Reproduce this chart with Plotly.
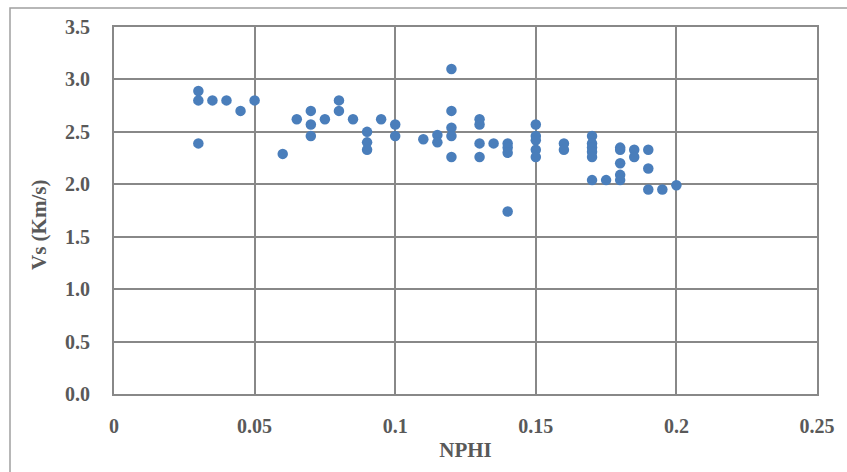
import plotly.graph_objects as go

# NPHI (x) and Vs (y) values
nphi = [0.03, 0.03, 0.03, 0.035, 0.04, 0.045, 0.05, 0.06, 0.065,
        0.07, 0.07, 0.07, 0.075, 0.08, 0.08, 0.085,
        0.09, 0.09, 0.09, 0.095, 0.10, 0.10, 0.11, 0.115, 0.115,
        0.12, 0.12, 0.12, 0.12, 0.12,
        0.13, 0.13, 0.13, 0.13, 0.135,
        0.14, 0.14, 0.14, 0.14,
        0.15, 0.15, 0.15, 0.15, 0.15,
        0.16, 0.16,
        0.17, 0.17, 0.17, 0.17, 0.17, 0.17, 0.175,
        0.18, 0.18, 0.18, 0.18, 0.18,
        0.185, 0.185, 0.19, 0.19, 0.19, 0.195, 0.20]
vs = [2.89, 2.80, 2.39, 2.80, 2.80, 2.70, 2.80, 2.29, 2.62,
      2.70, 2.57, 2.46, 2.62, 2.80, 2.70, 2.62,
      2.50, 2.40, 2.33, 2.62, 2.57, 2.46, 2.43, 2.47, 2.40,
      3.10, 2.70, 2.54, 2.46, 2.26,
      2.62, 2.57, 2.39, 2.26, 2.39,
      2.39, 2.35, 2.30, 1.74,
      2.57, 2.46, 2.42, 2.33, 2.26,
      2.39, 2.33,
      2.46, 2.39, 2.35, 2.31, 2.26, 2.04, 2.04,
      2.35, 2.33, 2.20, 2.09, 2.04,
      2.33, 2.26, 2.33, 2.15, 1.95, 1.95, 1.99]

x_ticks = [0, 0.05, 0.1, 0.15, 0.2, 0.25]
x_tick_labels = ["0", "0.05", "0.1", "0.15", "0.2", "0.25"]
y_ticks = [0.0, 0.5, 1.0, 1.5, 2.0, 2.5, 3.0, 3.5]
y_tick_labels = ["0.0", "0.5", "1.0", "1.5", "2.0", "2.5", "3.0", "3.5"]

font_family = "Liberation Serif"
text_color = "#595959"
grid_color = "#888888"
tick_font = dict(family=font_family, size=20, color=text_color, weight="bold")
title_font = dict(family=font_family, size=21, color=text_color, weight="bold")

fig = go.Figure()
fig.add_trace(go.Scatter(
    x=nphi, y=vs, mode="markers",
    marker=dict(color="#4a7ebb", size=10.5, line=dict(width=0)),
    showlegend=False,
))

fig.update_layout(
    width=847, height=472,
    margin=dict(l=114, r=30, t=27, b=78),
    paper_bgcolor="white", plot_bgcolor="white",
    font=dict(family=font_family, color=text_color, size=20),
    xaxis=dict(
        range=[0, 0.25], tickvals=x_ticks, ticktext=x_tick_labels,
        showgrid=True, gridcolor=grid_color, gridwidth=1.5,
        zeroline=False, showline=True, linecolor=grid_color, linewidth=2,
        mirror=True, ticks="", ticklen=0, ticklabelstandoff=13,
        tickfont=tick_font,
        title=dict(text="NPHI", standoff=6, font=title_font),
    ),
    yaxis=dict(
        range=[0, 3.5], tickvals=y_ticks, ticktext=y_tick_labels,
        showgrid=True, gridcolor=grid_color, gridwidth=1.5,
        zeroline=False, showline=True, linecolor=grid_color, linewidth=2,
        mirror=True, ticks="", ticklen=0, ticklabelstandoff=18,
        tickfont=tick_font,
    ),
)

# y-axis title placed as in the reference (slightly below the plot centre)
fig.add_annotation(
    text="Vs (Km/s)", textangle=-90, showarrow=False,
    xref="paper", yref="paper",
    x=(39 - 114) / 703, y=(394 - 225) / 367,
    xanchor="center", yanchor="middle", font=title_font,
)

# outer chart-area border (extends past the right and bottom edges)
fig.add_shape(type="rect", xref="paper", yref="paper",
              x0=(10 - 114) / 703, x1=(870 - 114) / 703,
              y0=(394 - 500) / 367, y1=(394 - 8) / 367,
              line=dict(color="#a0a0a0", width=1.5), layer="below")

fig.write_html("out.html")
